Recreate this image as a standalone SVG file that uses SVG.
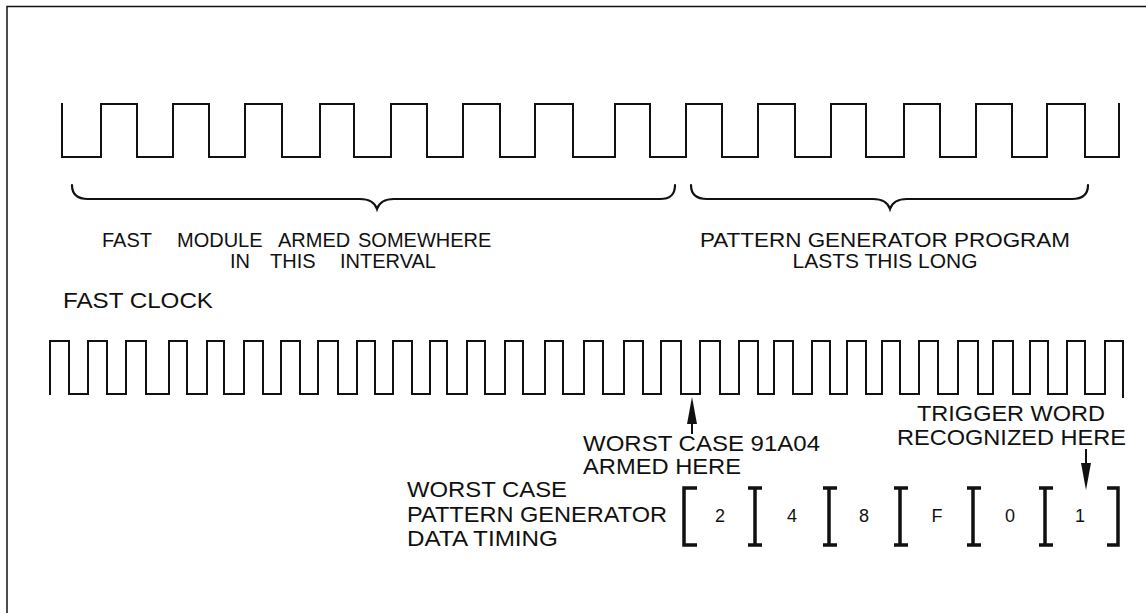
<svg xmlns="http://www.w3.org/2000/svg" width="1146" height="613" viewBox="0 0 1146 613">
<style>
.ln{fill:none;stroke:#111;stroke-width:2;stroke-linejoin:miter;stroke-linecap:square}
.br{fill:none;stroke:#111;stroke-width:2.2;stroke-linecap:round}
.bk{fill:none;stroke:#111;stroke-width:3.5}
.t{font-family:"Liberation Sans",Arial,Helvetica,sans-serif;fill:#111}
.up{font-size:20px}
.lo{font-size:22px}
.dg{font-size:18px;text-anchor:middle}
.ar{fill:#111}
</style>
<rect width="1146" height="613" fill="#fff"/>
<g id="frame">
<path class="ln" style="stroke-width:1.5" d="M7,6.5 H1146 M7,6.5 V613"/>
</g>
<g id="slow-clock">
<path class="ln" d="M62,104 V157 H101 V104 H137 V157 H173 V104 H209 V157 H245 V104 H282 V157 H320 V104 H354 V157 H391 V104 H427 V157 H463 V104 H500 V157 H535 V104 H573 V157 H615 V104 H650 V157 H686 V104 H722 V157 H758 V104 H795 V157 H831 V104 H866 V157 H904 V104 H940 V157 H976 V104 H1012 V157 H1047 V104 H1085 V157 H1119 V104"/>
</g>
<g id="braces">
<path class="br" d="M72,185 C72,195 78,199 88,199 H360 C370,199 375,203 377,209 C379,203 384,199 394,199 H660 C670,199 675,195 675,185"/>
<path class="br" d="M691,185 C691,195 697,199 707,199 H873 C883,199 888,203 890,209 C892,203 897,199 907,199 H1072 C1082,199 1088,195 1088,185"/>
</g>
<g id="armed-label">
<text class="t up" y="247"><tspan x="102">FAST </tspan><tspan x="177">MODULE </tspan><tspan x="278">ARMED </tspan><tspan x="358">SOMEWHERE</tspan></text>
<text class="t up" y="268"><tspan x="230">IN </tspan><tspan x="270">THIS </tspan><tspan x="340">INTERVAL</tspan></text>
</g>
<g id="program-label">
<text class="t up" x="885" y="247" text-anchor="middle" textLength="370" lengthAdjust="spacingAndGlyphs">PATTERN GENERATOR PROGRAM</text>
<text class="t up" x="885" y="268" text-anchor="middle" textLength="185" lengthAdjust="spacingAndGlyphs">LASTS THIS LONG</text>
</g>
<g id="fast-clock">
<text class="t lo" x="63" y="308" textLength="150" lengthAdjust="spacingAndGlyphs">FAST CLOCK</text>
<path class="ln" d="M50,394 V341 H69 V394 H88 V341 H107 V394 H126 V341 H146 V394 H169 V341 H187 V394 H207 V341 H224 V394 H244 V341 H263 V394 H281 V341 H300 V394 H318 V341 H338 V394 H357 V341 H375 V394 H393 V341 H412 V394 H430 V341 H447 V394 H467 V341 H485 V394 H505 V341 H523 V394 H545 V341 H563 V394 H584 V341 H603 V394 H624 V341 H643 V394 H661 V341 H681 V394 H700 V341 H720 V394 H739 V341 H758 V394 H774 V341 H793 V394 H812 V341 H830 V394 H847 V341 H866 V394 H882 V341 H900 V394 H919 V341 H938 V394 H958 V341 H978 V394 H993 V341 H1013 V394 H1030 V341 H1048 V394 H1067 V341 H1085 V394 H1105 V341 H1123 V397"/>
</g>
<g id="armed-here">
<text class="t lo" x="583" y="451" textLength="237" lengthAdjust="spacingAndGlyphs">WORST CASE 91A04</text>
<text class="t lo" x="583" y="474" textLength="158" lengthAdjust="spacingAndGlyphs">ARMED HERE</text>
</g>
<g id="trigger">
<text class="t lo" x="917" y="421" textLength="188" lengthAdjust="spacingAndGlyphs">TRIGGER WORD</text>
<text class="t lo" x="897" y="445" textLength="229" lengthAdjust="spacingAndGlyphs">RECOGNIZED HERE</text>
</g>
<g id="data-timing-label">
<text class="t lo" x="407" y="497" textLength="160" lengthAdjust="spacingAndGlyphs">WORST CASE</text>
<text class="t lo" x="407" y="522" textLength="260" lengthAdjust="spacingAndGlyphs">PATTERN GENERATOR</text>
<text class="t lo" x="407" y="546" textLength="151" lengthAdjust="spacingAndGlyphs">DATA TIMING</text>
</g>
<g id="data-words">
<path class="bk" d="M697,488 H684 V545 H697"/>
<path class="bk" d="M748,488 H762 M755,488 V545 M748,545 H762"/>
<path class="bk" d="M823,488 H837 M829,488 V545 M823,545 H837"/>
<path class="bk" d="M894,488 H908 M900,488 V545 M894,545 H908"/>
<path class="bk" d="M967,488 H981 M973,488 V545 M967,545 H981"/>
<path class="bk" d="M1039,488 H1053 M1045,488 V545 M1039,545 H1053"/>
<path class="bk" d="M1107,488 H1118 V545 H1107"/>
<text class="t dg" x="720" y="522">2</text>
<text class="t dg" x="792" y="522">4</text>
<text class="t dg" x="864" y="522">8</text>
<text class="t dg" x="937" y="522">F</text>
<text class="t dg" x="1010" y="522">0</text>
<text class="t dg" x="1080" y="522">1</text>
</g>
<g id="connectors">
<path class="ln" d="M692,418 V433"/>
<polygon class="ar" points="692,397 687,424 697,424"/>
<path class="ln" d="M1086,450 V466"/>
<polygon class="ar" points="1081,463 1091,463 1086,490"/>
</g>
</svg>
